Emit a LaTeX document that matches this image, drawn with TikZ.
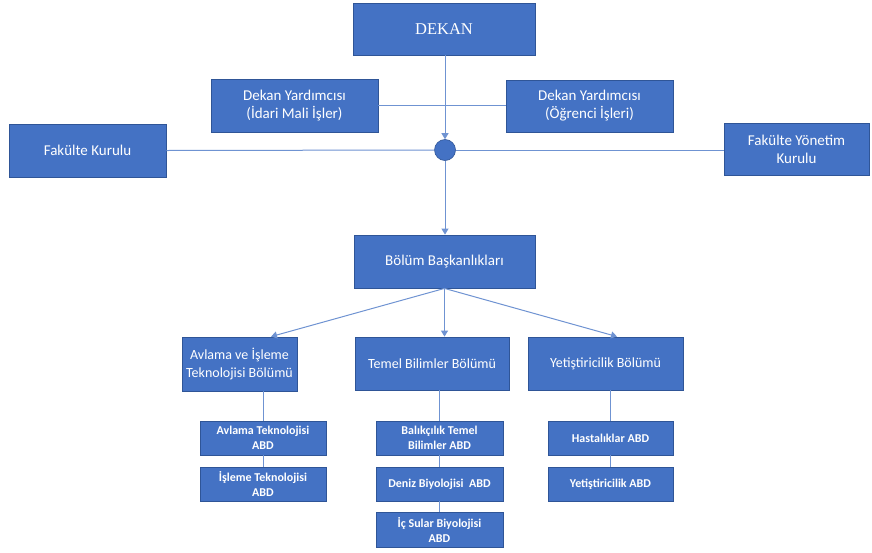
\documentclass[tikz,border=0pt]{standalone}
\usepackage{fontspec}
\setmainfont{Carlito}
\newfontfamily\dekanfont{Liberation Serif}
\usetikzlibrary{arrows.meta}
\definecolor{boxfill}{HTML}{4472C4}
\definecolor{boxdraw}{HTML}{2F5597}
\definecolor{linec}{HTML}{6F93D2}
\begin{document}
\begin{tikzpicture}[x=1pt,y=-1pt,
  orgbox/.style={draw=boxdraw,line width=0.8pt,fill=boxfill,text=white,align=center,inner sep=2pt},
  big/.style={orgbox,font=\fontsize{15}{18}\selectfont},
  mid/.style={orgbox,font=\fontsize{14}{18}\selectfont},
  small/.style={orgbox,font=\bfseries\fontsize{12}{15}\selectfont},
  conn/.style={draw=linec,line width=1pt},
  arr/.style={conn,-{Triangle[length=6pt,width=7pt]}}]
\useasboundingbox[fill=white] (0,0) rectangle (872,552);
% nodes
\node[orgbox,font=\dekanfont\fontsize{16.5}{20}\selectfont,minimum width=182pt,minimum height=52pt] (dekan) at (444,29) {DEKAN};
\node[big,minimum width=167pt,minimum height=53pt] (dyl) at (294.5,105.5) {Dekan Yardımcısı\\(İdari Mali İşler)};
\node[big,minimum width=167pt,minimum height=52pt] (dyr) at (589.5,106) {Dekan Yardımcısı\\(Öğrenci İşleri)};
\node[big,minimum width=157pt,minimum height=53pt] (fk) at (87.5,150.5) {Fakülte Kurulu};
\node[big,minimum width=145pt,minimum height=52pt] (fyk) at (796.5,149) {Fakülte Yönetim\\Kurulu};
\node[circle,draw=boxdraw,line width=0.6pt,fill=boxfill,minimum size=21pt,inner sep=0pt] (hub) at (445,150) {};
\node[big,minimum width=181pt,minimum height=53pt] (bb) at (444.5,261.5) {Bölüm Başkanlıkları};
\node[mid,minimum width=115pt,minimum height=54pt] (ab) at (239.5,364) {Avlama ve İşleme\\Teknolojisi Bölümü};
\node[mid,minimum width=154pt,minimum height=53pt] (tb) at (432,363.5) {Temel Bilimler Bölümü};
\node[mid,minimum width=155pt,minimum height=53pt] (yb) at (605.5,363.5) {Yetiştiricilik Bölümü};
\node[small,minimum width=126pt,minimum height=34pt] (at) at (263,438) {Avlama Teknolojisi\\ABD};
\node[small,minimum width=126pt,minimum height=34pt] (it) at (263,484) {İşleme Teknolojisi\\ABD};
\node[small,minimum width=127pt,minimum height=34pt] (bt) at (439.5,438) {Balıkçılık Temel\\Bilimler ABD};
\node[small,minimum width=127pt,minimum height=34pt] (db) at (439.5,484) {Deniz Biyolojisi\ \ ABD};
\node[small,minimum width=127pt,minimum height=35pt] (is) at (439.5,529.5) {İç Sular Biyolojisi\\ABD};
\node[small,minimum width=125pt,minimum height=34pt] (ha) at (610.5,438) {Hastalıklar ABD};
\node[small,minimum width=125pt,minimum height=34pt] (ya) at (610.5,484) {Yetiştiricilik ABD};
% connectors
\begin{scope}[on background layer/.style={}]
\end{scope}
\draw[conn] (dyl.east) -- (dyr.west |- dyl.east);
\draw[conn] (fk.east) -- (hub.west);
\draw[conn] (hub.east) -- (fyk.west |- hub.east);
\draw[arr] (dekan.south -| hub.north) -- (hub.north);
\draw[arr] (hub.south) -- (bb.north -| hub.south);
\draw[arr] (bb.south) -- ([xshift=31.5pt]ab.north);
\draw[arr] (bb.south) -- (tb.north -| bb.south);
\draw[arr] (bb.south) -- ([xshift=11.5pt]yb.north);
\draw[conn] (ab.south -| at.north) -- (at.north);
\draw[conn] (tb.south -| bt.north) -- (bt.north);
\draw[conn] (yb.south -| ha.north) -- (ha.north);
\draw[conn] (at.south) -- (it.north);
\draw[conn] (bt.south) -- (db.north);
\draw[conn] (db.south) -- (is.north);
\draw[conn] (ha.south) -- (ya.north);
\end{tikzpicture}
\end{document}
